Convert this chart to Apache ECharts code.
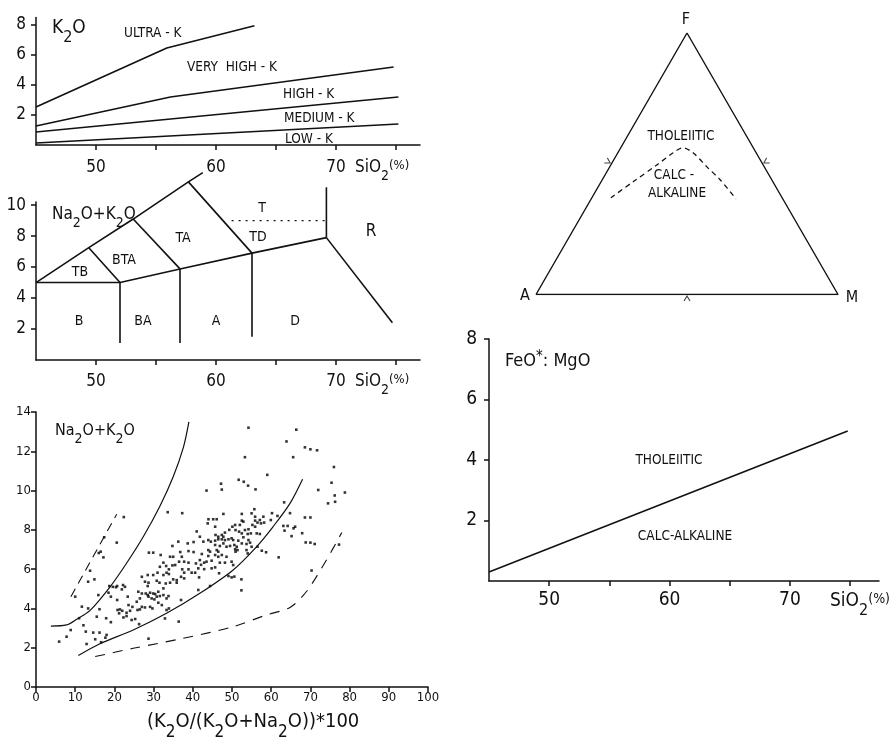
<!DOCTYPE html>
<html>
<head>
<meta charset="utf-8">
<script src="https://cdn.jsdelivr.net/npm/echarts@6/dist/echarts.min.js"></script>
<style>
  html, body { margin: 0; padding: 0; background: #fff; }
  #chart { width: 895px; height: 741px; }
</style>
</head>
<body>
<div id="chart"></div>
<script>
// ---------- K2O vs SiO2 series boundaries ----------
const ultraKLine     = [[45, 2.53], [55.9, 6.47], [63.2, 7.95]];
const veryHighKLine  = [[45, 1.27], [56.2, 3.2], [74.8, 5.2]];
const highKLine      = [[45, 0.87], [75.2, 3.2]];
const mediumKLine    = [[45, 0.13], [75.2, 1.4]];
const silicaTicks    = [50, 55, 60, 65, 70, 75];
const silicaLabels   = [50, 60, 70];
const potashTicks    = [2, 4, 6, 8];

// ---------- Total alkali vs silica field boundaries ----------
const tasUpper       = [[45, 5], [49.4, 7.25], [53.1, 9.1], [57.7, 11.5], [58.9, 12.1]];
const tasLower       = [[45, 5], [52, 5], [57, 5.88], [63, 6.9], [69.2, 7.9]];
const tasTbBta       = [[49.4, 7.25], [52, 5]];
const tasBtaTa       = [[53.1, 9.1], [57, 5.88]];
const tasTaTd        = [[57.7, 11.5], [63, 6.9]];
const tasB_BA        = [[52, 5], [52, 1.1]];
const tasBA_A        = [[57, 5.88], [57, 1.1]];
const tasA_D         = [[63, 6.9], [63, 1.5]];
const tasRhyoVert    = [[69.2, 11.15], [69.2, 7.9]];
const tasRhyoDiag    = [[69.2, 7.9], [74.7, 2.4]];
const tasTdT         = [[61.3, 9], [69.2, 9]];
const alkaliTicks    = [2, 4, 6, 8, 10];

// ---------- Alkali vs K2O/(K2O+Na2O) ----------
const upperCurve  = [[3.8, 3.1], [7.8, 3.16], [10.4, 3.45], [13.8, 3.9], [18.9, 5.1], [23.1, 6.3],
                     [27.4, 7.66], [31.6, 9.2], [35.0, 10.7], [37.6, 12.2], [39.0, 13.5]];
const lowerCurve  = [[10.8, 1.6], [16.3, 2.2], [24.8, 2.9], [33.3, 3.75], [41.8, 4.77], [50.3, 5.96],
                     [56.3, 7.15], [60.5, 8.17], [64.8, 9.35], [68.0, 10.58]];
const leftDashed  = [[8.9, 4.6], [20.6, 8.8]];
const rightDashed = [[15.1, 1.55], [24.8, 1.97], [37.6, 2.48], [50.3, 3.07], [58.8, 3.67],
                     [64.8, 4.05], [69.0, 4.86], [74.1, 6.47], [78.0, 7.86]];
const samples = [
  [54.2,13.2],[66.4,13.1],[63.9,12.5],[68.6,12.2],[70.0,12.1],[71.7,12.05],[53.3,11.7],[65.6,11.7],
  [76.0,11.2],[59.0,10.8],[51.7,10.55],[53.0,10.45],[54.1,10.25],[47.2,10.35],[47.4,10.05],[43.5,10.0],
  [56.0,10.06],[72.0,10.03],[75.4,10.4],[78.8,9.9],[76.2,9.75],[76.3,9.43],[74.5,9.35],[63.3,9.4],
  [33.6,8.9],[37.3,8.85],[22.4,8.65],[60.2,8.85],[64.8,8.85],[68.6,8.63],[70.0,8.63],[67.9,7.83],
  [68.8,7.36],[70.0,7.35],[71.1,7.28],[77.3,7.25],[70.3,5.93],[61.9,6.6],[58.7,6.86],[63.4,7.96],
  [63.1,8.2],[64.2,8.2],[65.7,8.08],[66.1,8.16],[65.2,7.68],[52.4,4.92],[52.4,5.48],[36.4,3.33],
  [28.7,2.46],
  [20.6,7.35],[17.4,7.62],[16.5,6.89],[16.0,6.82],[17.2,6.6],[14.9,5.48],[13.3,5.36],[13.8,5.92],
  [11.7,4.09],[13.3,4.0],[15.9,4.68],[16.2,3.96],[15.5,3.58],[12.1,3.14],[17.9,3.5],[19.1,3.3],
  [10.0,4.6],[11.0,3.5],[8.85,2.9],[7.8,2.56],[5.9,2.31],[12.7,2.82],[14.6,2.77],[16.2,2.77],
  [18.0,2.65],[17.7,2.51],[12.9,2.19],[15.1,2.43],[16.6,2.28],[19.6,5.1],[20.4,5.08],[20.7,5.14],
  [21.9,4.97],[19.1,4.6],[20.7,4.43],[23.4,4.6],[18.7,5.14],[18.5,4.8],
  [28.8,6.84],[29.9,6.84],[34.8,7.18],[36.3,7.4],[38.7,7.31],[40.2,7.38],[41.0,7.92],[31.8,6.72],
  [34.2,6.63],[35.0,6.63],[36.8,6.87],[37.2,6.63],[38.9,6.92],[40.2,6.87],[36.5,6.38],[37.8,6.38],
  [38.9,6.33],[32.5,6.33],[33.2,6.16],[31.6,6.12],[34.8,6.19],[35.5,6.21],[33.9,5.99],[40.8,6.29],
  [42.1,6.22],[42.9,6.33],[37.3,5.99],[38.9,5.99],[37.8,5.82],[39.7,5.82],[40.6,5.82],[28.5,5.7],
  [29.9,5.7],[31.0,5.82],[32.5,5.7],[33.3,5.82],[33.9,5.75],[35.0,5.48],[35.9,5.44],[37.0,5.61],
  [37.8,5.53],[27.0,5.61],[27.8,5.36],[28.7,5.31],[28.5,5.14],[30.8,5.41],[31.5,5.31],[33.1,5.27],
  [34.2,5.31],[32.5,5.02],[35.9,5.31],[22.2,5.19],[22.7,5.1],[26.1,4.85],[27.0,4.76],[28.0,4.76],
  [28.5,4.68],[29.1,4.8],[29.9,4.76],[30.4,4.73],[31.2,4.85],[28.7,4.6],[29.5,4.51],[30.2,4.46],
  [30.8,4.6],[31.6,4.63],[32.5,4.68],[33.3,4.51],[33.8,4.63],[25.7,4.34],[26.5,4.51],[23.6,4.17],
  [24.6,4.08],[27.8,4.05],[29.1,4.08],[29.7,4.0],[31.2,4.29],[32.1,4.17],[37.0,4.43],[20.8,3.92],
  [21.4,3.95],[22.0,3.88],[21.2,3.75],[23.1,3.78],[24.0,3.88],[25.9,3.92],[26.5,3.95],[27.0,4.08],
  [33.3,3.92],[33.9,4.0],[22.3,3.54],[23.1,3.61],[24.4,3.41],[25.3,3.46],[26.3,3.2],[32.9,3.49],
  [55.7,9.05],[47.8,8.81],[52.5,8.81],[55.0,8.84],[55.9,8.67],[58.0,8.67],[57.1,8.5],[58.2,8.37],
  [57.4,8.33],[55.9,8.47],[56.5,8.37],[55.2,8.25],[55.9,8.16],[61.6,8.71],[59.9,8.5],[44.0,8.54],
  [45.2,8.54],[46.1,8.54],[43.8,8.33],[45.7,8.16],[50.1,8.16],[50.8,8.25],[52.0,8.25],[52.9,8.42],
  [52.5,8.47],[49.3,8.0],[50.9,7.99],[51.8,7.91],[53.3,7.99],[54.2,8.03],[52.5,7.82],[54.0,7.79],
  [54.8,7.82],[56.3,7.82],[57.1,7.79],[48.2,7.86],[47.4,7.74],[47.8,7.65],[45.8,7.74],[46.5,7.65],
  [41.8,7.65],[42.7,7.4],[43.96,7.48],[44.6,7.4],[45.7,7.45],[46.5,7.52],[47.4,7.52],[48.2,7.48],
  [49.1,7.52],[49.9,7.57],[50.3,7.48],[51.6,7.45],[52.5,7.31],[53.7,7.28],[54.6,7.35],[55.0,7.14],
  [52.9,7.62],[54.2,7.48],[45.7,7.23],[46.9,7.18],[47.8,7.31],[48.6,7.14],[49.5,7.18],[50.6,7.23],
  [51.2,7.14],[43.96,6.97],[44.4,6.89],[46.1,6.97],[46.5,6.89],[50.8,7.01],[51.4,6.97],[50.9,6.89],
  [53.7,6.97],[54.0,6.8],[56.5,7.14],[57.6,6.94],[42.3,6.77],[43.96,6.67],[45.7,6.72],[46.5,6.63],
  [47.4,6.72],[48.6,6.63],[41.8,6.46],[43.5,6.38],[44.8,6.43],[46.9,6.33],[48.2,6.33],[49.9,6.38],
  [50.3,6.21],[41.4,6.04],[42.9,6.0],[44.8,6.04],[45.7,6.09],[46.7,5.79],[49.1,5.65],[49.9,5.58],
  [50.6,5.62],[41.6,5.58],[44.4,5.14],[41.4,4.94]
];
const ratioTicks  = [0, 10, 20, 30, 40, 50, 60, 70, 80, 90, 100];
const alkaliScale = [0, 2, 4, 6, 8, 10, 12, 14];

// ---------- AFM ternary (A, F, M percentages) ----------
const triangleA = [100, 0, 0, 100];
const triangleF = [0, 100, 0, 0];
const triangleM = [0, 0, 100, 0];
const afmCurveA = [56.7, 46.3, 35.1, 27.5, 23.3, 20.9, 19.0, 17.1, 15.5];
const afmCurveF = [37.0, 43.1, 49.6, 54.2, 56.1, 54.2, 48.8, 43.9, 36.6];
const afmCurveM = [6.3, 10.6, 15.3, 18.3, 20.6, 24.9, 32.2, 39.0, 47.9];
// 50 % marks on the A-F, F-M and A-M sides
const sideMidA  = [50, 0, 50];
const sideMidF  = [50, 50, 0];
const sideMidM  = [0, 50, 50];

// ---------- FeO*/MgO vs SiO2 ----------
const feMgDivider = [[45, 0.3], [74.8, 4.96]];
const feMgTicks   = [2, 4, 6, 8];

// ternary -> plane (x along A->M base, y toward F)
function ternaryToPlane(a, f, m) {
  const s = a + f + m;
  const fn = f / s * 100, mn = m / s * 100;
  return [mn + fn / 2, fn * Math.sqrt(3) / 2];
}
const triangleXY = triangleA.map((a, i) => ternaryToPlane(a, triangleF[i], triangleM[i]));
const afmCurveXY = afmCurveA.map((a, i) => ternaryToPlane(a, afmCurveF[i], afmCurveM[i]));
const sideMidXY  = sideMidA.map((a, i) => ternaryToPlane(a, sideMidF[i], sideMidM[i]));
// caret marks sit just outside each side and point inward
const sideMarkRotate = [-120, 120, 0];
const sideMarkOffset = [[-3.5, -2], [3.5, -2], [0, 4]];

const FONT = "'Liberation Sans Narrow','DejaVu Sans Condensed','Roboto Condensed',sans-serif";
const INK = '#111';

function rich(size) {
  return {
    b: { fontSize: size, lineHeight: size, verticalAlign: 'top', fontFamily: FONT, color: INK },
    s: { fontSize: Math.round(size * 0.85), lineHeight: Math.round(size * 0.85),
         padding: [Math.round(size * 0.58), 0, 0, 0], verticalAlign: 'top', fontFamily: FONT, color: INK },
    p: { fontSize: Math.round(size * 0.75), lineHeight: Math.round(size * 0.75),
         verticalAlign: 'top', fontFamily: FONT, color: INK }
  };
}
function label(x, y, text, size, align) {
  return {
    type: 'text', x: x, y: y, silent: true,
    style: { text: text, fontFamily: FONT, fontSize: size, fill: INK,
             align: align || 'left', verticalAlign: 'middle' }
  };
}
function richLabel(x, y, text, size) {
  return {
    type: 'text', x: x, y: y, silent: true,
    style: { text: text, rich: rich(size), fontFamily: FONT, fontSize: size, fill: INK,
             align: 'left', verticalAlign: 'top' }
  };
}

const axisLineStyle = { color: INK, width: 1.5 };
function xAxis(grid, min, max, ticks, labels, size, margin) {
  return {
    type: 'value', gridIndex: grid, min: min, max: max,
    axisLine: { show: true, onZero: false, lineStyle: axisLineStyle },
    axisTick: { show: true, customValues: ticks, length: 5, lineStyle: axisLineStyle },
    axisLabel: { show: true, customValues: labels, fontFamily: FONT, fontSize: size, color: INK, margin: margin },
    splitLine: { show: false }
  };
}
function yAxis(grid, min, max, ticks, labels, size, margin) {
  return {
    type: 'value', gridIndex: grid, min: min, max: max,
    axisLine: { show: true, onZero: false, lineStyle: axisLineStyle },
    axisTick: { show: true, customValues: ticks, length: 5, lineStyle: axisLineStyle },
    axisLabel: { show: true, customValues: labels, fontFamily: FONT, fontSize: size, color: INK, margin: margin },
    splitLine: { show: false }
  };
}
function line(idx, data, opts) {
  opts = opts || {};
  return {
    type: 'line', xAxisIndex: idx, yAxisIndex: idx, data: data,
    showSymbol: false, symbol: 'none', silent: true, animation: false,
    clip: opts.clip !== undefined ? opts.clip : true,
    smooth: opts.smooth || false,
    lineStyle: { color: INK, width: opts.width || 1.6, type: opts.type || 'solid', cap: 'butt' }
  };
}

const option = {
  backgroundColor: '#fff',
  animation: false,
  grid: [
    { left: 36, top: 17.5, width: 384, height: 127.5 },   // K2O
    { left: 36, top: 202, width: 384, height: 158 },      // TAS
    { left: 36, top: 412, width: 392, height: 275 },      // alkali vs ratio
    { left: 536, top: 33, width: 302, height: 261.5 },    // AFM
    { left: 489, top: 339, width: 390, height: 242 }      // FeO*/MgO
  ],
  xAxis: [
    xAxis(0, 45, 77, silicaTicks, silicaLabels, 17, 14),
    xAxis(1, 45, 77, silicaTicks, silicaLabels, 17, 13),
    xAxis(2, 0, 100, ratioTicks, ratioTicks, 13, 4),
    { type: 'value', gridIndex: 3, min: 0, max: 100, show: false },
    xAxis(4, 45, 77.4, silicaTicks, silicaLabels, 19, 10)
  ],
  yAxis: [
    yAxis(0, 0, 8.5, potashTicks, potashTicks, 17, 10),
    yAxis(1, 0, 10.2, alkaliTicks, alkaliTicks, 17, 10),
    yAxis(2, 0, 14, alkaliScale, alkaliScale, 13, 5),
    { type: 'value', gridIndex: 3, min: 0, max: 86.6, show: false },
    yAxis(4, 0, 8, feMgTicks, feMgTicks, 19, 12)
  ],
  series: [
    line(0, ultraKLine), line(0, veryHighKLine), line(0, highKLine), line(0, mediumKLine),

    line(1, tasUpper, { clip: false }), line(1, tasLower), line(1, tasTbBta), line(1, tasBtaTa),
    line(1, tasTaTd, { clip: false }), line(1, tasB_BA), line(1, tasBA_A), line(1, tasA_D),
    line(1, tasRhyoVert, { clip: false }), line(1, tasRhyoDiag),
    line(1, tasTdT, { type: [2, 5], width: 1.4 }),

    line(2, upperCurve, { smooth: 0.3, width: 1.2 }),
    line(2, lowerCurve, { smooth: 0.3, width: 1.2 }),
    line(2, leftDashed, { type: [9, 6], width: 1.1 }),
    line(2, rightDashed, { smooth: 0.3, type: [10, 8], width: 1.1 }),
    {
      type: 'scatter', xAxisIndex: 2, yAxisIndex: 2, data: samples, silent: true,
      symbol: 'rect', symbolSize: 2.6, itemStyle: { color: '#000' }
    },

    line(3, triangleXY, { width: 1.4 }),
    line(3, afmCurveXY, { smooth: 0.3, type: [5, 4], width: 1.3 }),
    {
      type: 'scatter', xAxisIndex: 3, yAxisIndex: 3, silent: true,
      data: sideMidXY.map((p, i) => ({
        value: p, symbolRotate: sideMarkRotate[i], symbolOffset: sideMarkOffset[i]
      })),
      symbol: 'path://M0 10 L5 0 L10 10', symbolSize: [6, 5],
      itemStyle: { color: 'none', borderColor: INK, borderWidth: 1 }
    },

    line(4, feMgDivider, { width: 1.6 })
  ],
  graphic: [
    // K2O panel
    richLabel(52, 19, '{b|K}{s|2}{b|O}', 19),
    label(124, 33, 'ULTRA - K', 13.5),
    label(187, 67, 'VERY  HIGH - K', 13.5),
    label(283, 94, 'HIGH - K', 13.5),
    label(284, 118, 'MEDIUM - K', 13.5),
    label(285, 139, 'LOW - K', 13.5),
    richLabel(355, 159, '{b|SiO}{s|2}{p|(%)}', 17),

    // TAS panel
    richLabel(52, 206, '{b|Na}{s|2}{b|O+K}{s|2}{b|O}', 17),
    label(262, 208, 'T', 14, 'center'),
    label(258, 237, 'TD', 14, 'center'),
    label(183, 238, 'TA', 14, 'center'),
    label(124, 260, 'BTA', 14, 'center'),
    label(80, 272, 'TB', 14, 'center'),
    label(371, 232, 'R', 17, 'center'),
    label(79, 321, 'B', 14, 'center'),
    label(143, 321, 'BA', 14, 'center'),
    label(216, 321, 'A', 14, 'center'),
    label(295, 321, 'D', 14, 'center'),
    richLabel(355, 373, '{b|SiO}{s|2}{p|(%)}', 17),

    // alkali vs ratio panel
    richLabel(55, 423, '{b|Na}{s|2}{b|O+K}{s|2}{b|O}', 16),
    richLabel(147, 712, '{b|(K}{s|2}{b|O/(K}{s|2}{b|O+Na}{s|2}{b|O))*100}', 20),

    // AFM panel
    label(686, 20, 'F', 16, 'center'),
    label(525, 296, 'A', 16, 'center'),
    label(852, 298, 'M', 16, 'center'),
    label(681, 136, 'THOLEIITIC', 13.5, 'center'),
    label(674, 175, 'CALC -', 13.5, 'center'),
    label(677, 193, 'ALKALINE', 13.5, 'center'),

    // FeO*/MgO panel
    {
      type: 'text', x: 505, y: 352, silent: true,
      style: {
        text: '{b|FeO}{u|*}{b|: MgO}', fontFamily: FONT, fontSize: 18, fill: INK,
        rich: {
          b: { fontSize: 18, lineHeight: 18, verticalAlign: 'top', fontFamily: FONT, color: INK },
          u: { fontSize: 15, lineHeight: 15, verticalAlign: 'top', padding: [-2, 0, 0, 0], fontFamily: FONT, color: INK }
        }
      }
    },
    label(669, 460, 'THOLEIITIC', 13.5, 'center'),
    label(685, 536, 'CALC-ALKALINE', 13.5, 'center'),
    richLabel(830, 592, '{b|SiO}{s|2}{p|(%)}', 19)
  ]
};

const chart = echarts.init(document.getElementById('chart'), null, { renderer: 'canvas' });
chart.setOption(option);
</script>
</body>
</html>
